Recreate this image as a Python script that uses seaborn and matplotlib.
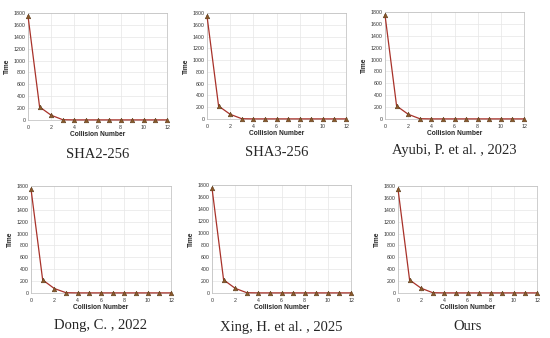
import numpy as np
import pandas as pd
import seaborn as sns
import matplotlib.pyplot as plt

# Data
collision = list(range(13))
time_sha2 = [1750, 220, 80, 5, 2, 2, 2, 2, 2, 2, 2, 2, 2]
time_sha3 = [1750, 220, 80, 5, 2, 2, 2, 2, 2, 2, 2, 2, 2]
time_ayubi = [1750, 220, 80, 5, 2, 2, 2, 2, 2, 2, 2, 2, 2]
time_dong = [1750, 220, 75, 5, 2, 2, 2, 2, 2, 2, 2, 2, 2]
time_xing = [1750, 220, 78, 5, 2, 2, 2, 2, 2, 2, 2, 2, 2]
time_ours = [1750, 220, 80, 5, 2, 2, 2, 2, 2, 2, 2, 2, 2]

titles = ["SHA2-256", "SHA3-256", "Ayubi, P. et al. , 2023",
          "Dong, C. , 2022", "Xing, H. et al. , 2025", "Ours"]
series = [time_sha2, time_sha3, time_ayubi, time_dong, time_xing, time_ours]

# axes boxes in pixels: left, right, top, bottom; caption y
W, H = 550, 338
boxes = [(28, 167, 13, 120, 154), (207, 346, 13, 119, 152), (385, 524, 12, 119, 150),
         (31, 171, 186, 293, 325), (212, 351, 185, 293, 327), (398, 537, 186, 293, 326)]

sns.set_style("whitegrid")
plt.rcParams['font.family'] = ['Liberation Sans', 'DejaVu Sans']

fig = plt.figure(figsize=(W / 100, H / 100), dpi=100)
for title, vals, (l, r, t, b, cy) in zip(titles, series, boxes):
    ax = fig.add_axes([l / W, 1 - b / H, (r - l) / W, (b - t) / H])
    df = pd.DataFrame({'Collision Number': collision, 'Time': vals})
    sns.lineplot(data=df, x='Collision Number', y='Time', ax=ax, color='#a8322a',
                 linewidth=0.9, marker='^', markersize=3.3, clip_on=False, zorder=5,
                 markerfacecolor='#8b5a2b', markeredgecolor='#5a3a1a', markeredgewidth=0.4)
    ax.set_xlim(0, 12)
    ax.set_ylim(0, 1800)
    ax.set_xticks(range(0, 13, 2))
    ax.set_yticks(range(0, 1801, 200))
    ax.tick_params(labelsize=3.8, length=0, colors='#333333')
    ax.tick_params(axis='x', pad=3.5)
    ax.tick_params(axis='y', pad=1.5)
    ax.grid(True, color='#e6e6e6', linewidth=0.5)
    for s in ax.spines.values():
        s.set_color('#bbbbbb')
        s.set_linewidth(0.5)
    ax.set_xlabel('Collision Number', fontsize=4.8, fontweight='bold', labelpad=1.0)
    ax.set_ylabel('Time', fontsize=4.8, fontweight='bold', labelpad=2)
    fig.text((l + r) / 2 / W, 1 - cy / H, title, ha='center', va='center',
             fontsize=10.5, family=['Liberation Serif', 'DejaVu Serif'])

fig.savefig('out.png', dpi=100)
